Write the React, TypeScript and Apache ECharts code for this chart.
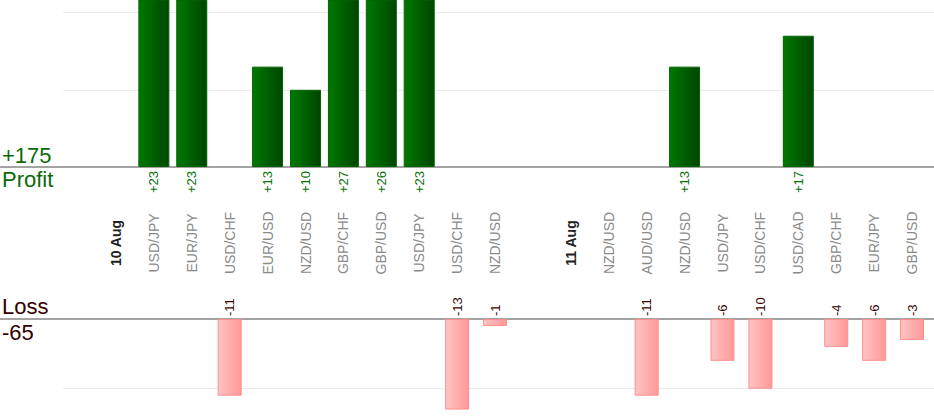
import React, { useEffect, useRef } from "react";
import * as echarts from "echarts";

const categories = [
  "10 Aug", "USD/JPY", "EUR/JPY", "USD/CHF", "EUR/USD", "NZD/USD", "GBP/CHF",
  "GBP/USD", "USD/JPY", "USD/CHF", "NZD/USD", "", "11 Aug", "NZD/USD", "AUD/USD",
  "NZD/USD", "USD/JPY", "USD/CHF", "USD/CAD", "GBP/CHF", "EUR/JPY", "GBP/USD",
];
const dateLabels = ["10 Aug", "11 Aug"];
const profits: (number | null)[] = [
  null, 23, 23, null, 13, 10, 27, 26, 23, null, null, null, null, null, null,
  13, null, null, 17, null, null, null,
];
const losses: (number | null)[] = [
  null, null, null, -11, null, null, null, null, null, -13, -1, null, null, null, -11,
  null, -6, -10, null, -4, -6, -3,
];
const profitTicks = { min: 0, max: 21.63, interval: 10 };
// loss axis is drawn downward (inverse) as loss magnitude
const lossTicks = { min: 0, max: 14.49, interval: 10 };

const FONT = "'Liberation Sans', Arial, sans-serif";

export default function App() {
  const ref = useRef<HTMLDivElement>(null);
  useEffect(() => {
    if (!ref.current) return;
    const chart = echarts.init(ref.current, null, { renderer: "svg" });
    const totalProfit = profits.reduce((a: number, v) => a + (v || 0), 0);
    const totalLoss = losses.reduce((a: number, v) => a + (v || 0), 0);
    const lossMagnitude = losses.map((v) => (v == null ? null : -v));

    const topPanel = { top: 0, height: 167 };
    const botPanel = { top: 319, height: 101 };

    const grids = [
      { left: 63, right: 0, ...topPanel },
      { left: 0, right: 0, ...topPanel },
      { left: 97, right: 3, ...topPanel },
      { left: 63, right: 0, ...botPanel },
      { left: 0, right: 0, ...botPanel },
      { left: 97, right: 3, ...botPanel },
    ];

    const hiddenX = (g: number) => ({
      type: "category" as const,
      gridIndex: g,
      data: categories,
      show: false,
    });
    const lineX = (g: number, pos: "top" | "bottom") => ({
      type: "category" as const,
      gridIndex: g,
      data: categories,
      position: pos,
      axisLine: { show: true, onZero: false, lineStyle: { color: "#858585", width: 1.5 } },
      axisTick: { show: false },
      axisLabel: { show: false },
      splitLine: { show: false },
    });

    const yAx = (g: number, t: typeof profitTicks, split: boolean, inverse: boolean) => ({
      type: "value" as const,
      gridIndex: g,
      min: t.min,
      max: t.max,
      interval: t.interval,
      inverse,
      axisLine: { show: false },
      axisTick: { show: false },
      axisLabel: { show: false },
      splitLine: {
        show: split,
        showMinLine: false,
        showMaxLine: false,
        lineStyle: { color: "#ebebeb", width: 1 },
      },
    });

    const catData = categories.map((c) =>
      dateLabels.includes(c)
        ? {
            value: c,
            textStyle: {
              fontWeight: "bold",
              color: "#222",
              align: "center",
              verticalAlign: "middle",
              fontSize: 14,
              fontFamily: FONT,
            },
          }
        : { value: c }
    );

    const option = {
      animation: false,
      grid: grids,
      xAxis: [
        hiddenX(0),
        lineX(1, "bottom"),
        {
          type: "category",
          gridIndex: 2,
          data: catData,
          axisLine: { show: false },
          axisTick: { show: false },
          splitLine: { show: false },
          axisLabel: {
            show: true,
            interval: 0,
            rotate: 90,
            align: "center",
            verticalAlign: "middle",
            margin: 76,
            color: "#8a8a8a",
            fontSize: 14,
            fontFamily: FONT,
          },
        },
        hiddenX(3),
        lineX(4, "top"),
        hiddenX(5),
      ],
      yAxis: [
        yAx(0, profitTicks, true, false),
        yAx(1, profitTicks, false, false),
        yAx(2, profitTicks, false, false),
        yAx(3, lossTicks, true, true),
        yAx(4, lossTicks, false, true),
        yAx(5, lossTicks, false, true),
      ],
      series: [
        {
          type: "bar",
          xAxisIndex: 2,
          yAxisIndex: 2,
          data: profits,
          barWidth: 31,
          clip: true,
          itemStyle: {
            color: new echarts.graphic.LinearGradient(0, 0, 1, 0, [
              { offset: 0, color: "#007800" },
              { offset: 1, color: "#004600" },
            ]),
            borderColor: "#006400",
            borderWidth: 1,
          },
          label: {
            show: true,
            position: "bottom",
            distance: 4,
            rotate: 90,
            align: "right",
            verticalAlign: "middle",
            formatter: (p: any) => "+" + p.value,
            color: "#0a700a",
            fontSize: 13,
            fontFamily: FONT,
          },
        },
        {
          type: "bar",
          xAxisIndex: 5,
          yAxisIndex: 5,
          data: lossMagnitude,
          barWidth: 24,
          clip: true,
          itemStyle: {
            color: new echarts.graphic.LinearGradient(0, 0, 1, 0, [
              { offset: 0, color: "#ffc4c4" },
              { offset: 1, color: "#ff9898" },
            ]),
            borderColor: "#ff8f8f",
            borderWidth: 1,
          },
          label: {
            show: true,
            position: "top",
            distance: 3,
            rotate: 90,
            align: "left",
            verticalAlign: "middle",
            formatter: (p: any) => String(losses[p.dataIndex]),
            color: "#3a0505",
            fontSize: 13,
            fontFamily: FONT,
          },
        },
      ],
      graphic: [
        {
          type: "text",
          left: 2,
          top: 144,
          style: { text: "+" + totalProfit, fill: "#0a6a0a", font: `22px ${FONT}` },
        },
        {
          type: "text",
          left: 2,
          top: 168,
          style: { text: "Profit", fill: "#0a6a0a", font: `22px ${FONT}` },
        },
        {
          type: "text",
          left: 2,
          top: 295,
          style: { text: "Loss", fill: "#330000", font: `22px ${FONT}` },
        },
        {
          type: "text",
          left: 2,
          top: 321,
          style: { text: String(totalLoss), fill: "#330000", font: `22px ${FONT}` },
        },
      ],
    };
    chart.setOption(option as any);
    return () => chart.dispose();
  }, []);
  return <div ref={ref} style={{ width: 934, height: 420, position: "absolute", left: 0, top: 0 }} />;
}
